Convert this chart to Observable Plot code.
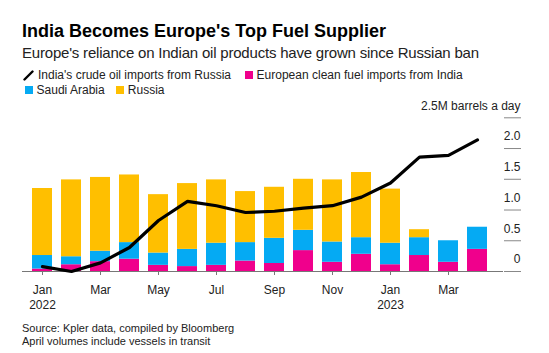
<!DOCTYPE html>
<html><head><meta charset="utf-8">
<script src="https://cdn.jsdelivr.net/npm/d3@7"></script>
<script src="https://cdn.jsdelivr.net/npm/@observablehq/plot@0.6"></script>
<style>
body{margin:0;background:#fff;font-family:"Liberation Sans",Arial,sans-serif;color:#000;}
#wrap{position:relative;width:549px;height:353px;overflow:hidden;}
.t{position:absolute;white-space:nowrap;line-height:1;}
#title{left:22px;top:21.6px;font-size:18px;font-weight:bold;}
#sub{left:22px;top:45.2px;font-size:15px;letter-spacing:-0.2px;color:#222;}
.lg{position:absolute;white-space:nowrap;font-size:12px;line-height:16px;color:#222;display:flex;align-items:center;}
.sq{display:inline-block;width:8px;height:8px;margin-right:4px;}
#cap{position:absolute;left:22px;top:322.4px;font-size:11px;line-height:12.6px;color:#222;white-space:nowrap;}
#chart{position:absolute;left:0;top:100px;}
</style></head>
<body><div id="wrap">
<div class="t" id="title">India Becomes Europe's Top Fuel Supplier</div>
<div class="t" id="sub">Europe's reliance on Indian oil products have grown since Russian ban</div>
<div id="legend"></div>
<div id="chart"></div>
<div id="cap">Source: Kpler data, compiled by Bloomberg<br>April volumes include vessels in transit</div>
</div>
<script>
const months = ["2022-01","2022-02","2022-03","2022-04","2022-05","2022-06","2022-07","2022-08","2022-09","2022-10","2022-11","2022-12","2023-01","2023-02","2023-03","2023-04"];
const indiaCrudeFromRussia = [0.08,0.0,0.14,0.39,0.83,1.14,1.07,0.96,0.98,1.03,1.07,1.21,1.44,1.86,1.89,2.14];
const europeFromIndia = [0.04,0.11,0.16,0.20,0.10,0.08,0.10,0.17,0.13,0.34,0.15,0.28,0.11,0.26,0.15,0.36];
const europeFromSaudi = [0.22,0.13,0.17,0.27,0.20,0.28,0.36,0.30,0.41,0.33,0.33,0.27,0.35,0.29,0.35,0.36];
const europeFromRussia = [1.09,1.25,1.20,1.10,0.95,1.07,1.03,0.83,0.83,0.83,1.01,1.06,0.88,0.13,0,0];
const seriesNames = ["European clean fuel imports from India","Saudi Arabia","Russia"];
const seriesColors = ["#f0008c","#05aaf3","#ffbf00"];
const lineName = "India's crude oil imports from Russia";
const yTicks = [0,0.5,1,1.5,2,2.5];
const yTickLabels = ["0","0.5","1.0","1.5","2.0","2.5M barrels a day"];
const xTickMonths = ["2022-01","2022-03","2022-05","2022-07","2022-09","2022-11","2023-01","2023-03"];
const xTickLabels = ["Jan\n2022","Mar","May","Jul","Sep","Nov","Jan\n2023","Mar"];

// legend
const legend = document.getElementById("legend");
const legendItems = [
  {kind:"line", label: lineName, left:23, top:66.5},
  {kind:"sq", color: seriesColors[0], label: seriesNames[0], left:244.6, top:66.5},
  {kind:"sq", color: seriesColors[1], label: seriesNames[1], left:24.6, top:82.3},
  {kind:"sq", color: seriesColors[2], label: seriesNames[2], left:115.8, top:82.3}
];
for (const it of legendItems) {
  const d = document.createElement("div");
  d.className = "lg";
  d.style.left = it.left + "px";
  d.style.top = it.top + "px";
  if (it.kind === "line") {
    d.innerHTML = '<svg width="12" height="12" style="margin-right:3px"><line x1="1.5" y1="10.5" x2="9.5" y2="2.5" stroke="#000" stroke-width="2.4" stroke-linecap="round"/></svg>';
  } else {
    d.innerHTML = '<span class="sq" style="background:' + it.color + '"></span>';
  }
  d.appendChild(document.createTextNode(it.label));
  legend.appendChild(d);
}

const stacked = [];
months.forEach((m, i) => {
  stacked.push({month: m, series: seriesNames[0], value: europeFromIndia[i]});
  stacked.push({month: m, series: seriesNames[1], value: europeFromSaudi[i]});
  stacked.push({month: m, series: seriesNames[2], value: europeFromRussia[i]});
});
const lineData = months.map((m, i) => ({month: m, value: indiaCrudeFromRussia[i]}));

const chart = Plot.plot({
  width: 549, height: 215,
  marginLeft: 22, marginRight: 46, marginTop: 17, marginBottom: 44,
  style: {fontFamily: '"Liberation Sans", Arial, sans-serif', fontSize: "12px", background: "transparent", overflow: "visible", color: "#222"},
  x: {type: "band", domain: months, range: [24, 494.4], paddingInner: 0.3, paddingOuter: 0.15, axis: null, label: null},
  y: {domain: [0, 2.5], range: [171, 17.3], axis: null, label: null},
  color: {domain: seriesNames, range: seriesColors},
  marks: [
    Plot.barY(stacked, {x: "month", y: "value", fill: "series"}),
    Plot.ruleY([0], {stroke: "#777", strokeWidth: 1}),
    Plot.axisX({ticks: xTickMonths, tickFormat: d => xTickLabels[xTickMonths.indexOf(d)], tickSize: 4, tickPadding: 7, lineHeight: 1.3, stroke: "#777", strokeOpacity: 1, fontSize: 12, label: null}),
    Plot.axisY({anchor: "right", ticks: yTicks, tickSize: 17, tickFormat: () => "", stroke: "#888", strokeOpacity: 1, label: null}),
    Plot.axisY({anchor: "right", ticks: yTicks, tickSize: 0, tickPadding: 17, textAnchor: "end", dy: -12, fontSize: 12, label: null, tickFormat: d => yTickLabels[yTicks.indexOf(d)]}),
    Plot.line(lineData, {x: "month", y: "value", stroke: "#000", strokeWidth: 3.2, strokeLinejoin: "miter"})
  ]
});
document.getElementById("chart").appendChild(chart);
</script>
</body></html>
